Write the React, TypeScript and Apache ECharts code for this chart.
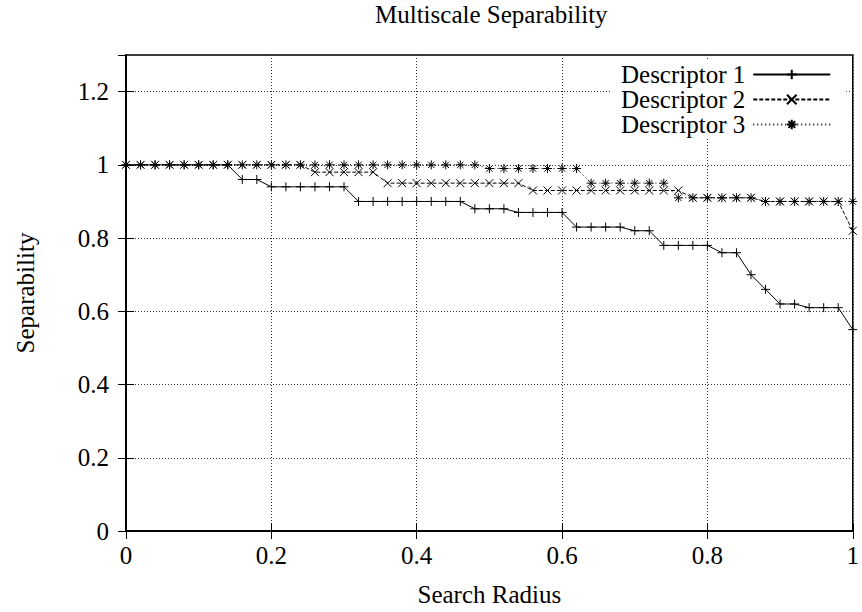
import React, { useEffect, useRef } from "react";
import * as echarts from "echarts";

const radius = [
  0, 0.02, 0.04, 0.06, 0.08, 0.1, 0.12, 0.14, 0.16, 0.18,
  0.2, 0.22, 0.24, 0.26, 0.28, 0.3, 0.32, 0.34, 0.36, 0.38,
  0.4, 0.42, 0.44, 0.46, 0.48, 0.5, 0.52, 0.54, 0.56, 0.58,
  0.6, 0.62, 0.64, 0.66, 0.68, 0.7, 0.72, 0.74, 0.76, 0.78,
  0.8, 0.82, 0.84, 0.86, 0.88, 0.9, 0.92, 0.94, 0.96, 0.98, 1.0,
];

const descriptor1 = [
  1, 1, 1, 1, 1, 1, 1, 1, 0.96, 0.96,
  0.94, 0.94, 0.94, 0.94, 0.94, 0.94, 0.9, 0.9, 0.9, 0.9,
  0.9, 0.9, 0.9, 0.9, 0.88, 0.88, 0.88, 0.87, 0.87, 0.87,
  0.87, 0.83, 0.83, 0.83, 0.83, 0.82, 0.82, 0.78, 0.78, 0.78,
  0.78, 0.76, 0.76, 0.7, 0.66, 0.62, 0.62, 0.61, 0.61, 0.61, 0.55,
];

const descriptor2 = [
  1, 1, 1, 1, 1, 1, 1, 1, 1, 1,
  1, 1, 1, 0.98, 0.98, 0.98, 0.98, 0.98, 0.95, 0.95,
  0.95, 0.95, 0.95, 0.95, 0.95, 0.95, 0.95, 0.95, 0.93, 0.93,
  0.93, 0.93, 0.93, 0.93, 0.93, 0.93, 0.93, 0.93, 0.93, 0.91,
  0.91, 0.91, 0.91, 0.91, 0.9, 0.9, 0.9, 0.9, 0.9, 0.9, 0.82,
];

const descriptor3 = [
  1, 1, 1, 1, 1, 1, 1, 1, 1, 1,
  1, 1, 1, 1, 1, 1, 1, 1, 1, 1,
  1, 1, 1, 1, 1, 0.99, 0.99, 0.99, 0.99, 0.99,
  0.99, 0.99, 0.95, 0.95, 0.95, 0.95, 0.95, 0.95, 0.91, 0.91,
  0.91, 0.91, 0.91, 0.91, 0.9, 0.9, 0.9, 0.9, 0.9, 0.9, 0.9,
];

const seriesNames = ["Descriptor 1", "Descriptor 2", "Descriptor 3"];

const FONT = '"Liberation Serif", "Times New Roman", serif';
const FS = 25;
const PLUS = "path://M5,0L5,10M0,5L10,5";
const CROSS = "path://M0,0L10,10M10,0L0,10";
const STAR = "path://M5,0L5,10M0,5L10,5M1.5,1.5L8.5,8.5M8.5,1.5L1.5,8.5";

function pairs(ys: number[]) {
  return radius.map((x, i) => [x, ys[i]]);
}

export default function App() {
  const ref = useRef<HTMLDivElement>(null);

  useEffect(() => {
    if (!ref.current) return;
    const chart = echarts.init(ref.current, null, { renderer: "svg" });

    const tickStyle = { show: true, inside: true, length: 8, lineStyle: { color: "#000", width: 1 } };
    const axisLineStyle = { show: true, lineStyle: { color: "#000", width: 1.5 } };
    const splitStyle = { show: true, lineStyle: { color: "#333", width: 1, type: [1, 2] as any } };
    const labelStyle = { color: "#000", fontFamily: FONT, fontSize: FS };

    const mkSeries = (name: string, ys: number[], symbol: string, lineType: any, size: number) => ({
      name,
      type: "line",
      data: pairs(ys),
      symbol,
      symbolSize: size,
      showSymbol: true,
      showAllSymbol: true,
      xAxisIndex: 0,
      yAxisIndex: 0,
      lineStyle: { color: "#000", width: 1, type: lineType },
      itemStyle: { color: "#000", borderColor: "#000", borderWidth: 1 },
      emphasis: { disabled: true },
    });

    chart.setOption({
      animation: false,
      backgroundColor: "#fff",
      title: {
        text: "Multiscale Separability",
        left: 375,
        top: 2,
        padding: 0,
        textStyle: { fontFamily: FONT, fontSize: FS, fontWeight: "normal", color: "#000" },
      },
      grid: {
        left: 126,
        top: 55,
        width: 735,
        height: 481,
        show: true,
        borderColor: "#000",
        borderWidth: 1.5,
        backgroundColor: "transparent",
      },
      legend: {
        data: seriesNames,
        orient: "vertical",
        left: 610,
        top: 60,
        align: "right",
        itemWidth: 77,
        itemHeight: 12,
        itemGap: 0,
        padding: [2, 15, 2, 11],
        backgroundColor: "#fff",
        textStyle: { fontFamily: FONT, fontSize: FS, color: "#000", lineHeight: 25, padding: [0, 3, 0, 0] },
      },
      xAxis: [
        {
          type: "value",
          min: 0,
          max: 1,
          interval: 0.2,
          position: "bottom",
          name: "Search Radius",
          nameLocation: "middle",
          nameGap: 51,
          nameTextStyle: labelStyle,
          axisLine: axisLineStyle,
          axisTick: tickStyle,
          axisLabel: { ...labelStyle, margin: 12 },
          splitLine: splitStyle,
        },
        {
          type: "value",
          min: 0,
          max: 1,
          interval: 0.2,
          position: "top",
          axisLine: axisLineStyle,
          axisTick: tickStyle,
          axisLabel: { show: false },
          splitLine: { show: false },
        },
      ],
      yAxis: [
        {
          type: "value",
          min: 0,
          max: 1.3,
          interval: 0.2,
          position: "left",
          name: "Separability",
          nameLocation: "middle",
          nameGap: 88,
          nameTextStyle: labelStyle,
          axisLine: axisLineStyle,
          axisTick: tickStyle,
          axisLabel: { ...labelStyle, margin: 17, showMaxLabel: false },
          splitLine: splitStyle,
        },
        {
          type: "value",
          min: 0,
          max: 1.3,
          interval: 0.2,
          position: "right",
          axisLine: axisLineStyle,
          axisTick: tickStyle,
          axisLabel: { show: false },
          splitLine: { show: false },
        },
      ],
      series: [
        mkSeries(seriesNames[0], descriptor1, PLUS, "solid", 9),
        mkSeries(seriesNames[1], descriptor2, CROSS, [4, 2], 8),
        mkSeries(seriesNames[2], descriptor3, STAR, [1, 3], 9),
      ],
    });

    return () => {
      chart.dispose();
    };
  }, []);

  return (
    <div
      ref={ref}
      style={{ position: "absolute", left: 0, top: 0, width: 862, height: 612, overflow: "hidden" }}
    />
  );
}
